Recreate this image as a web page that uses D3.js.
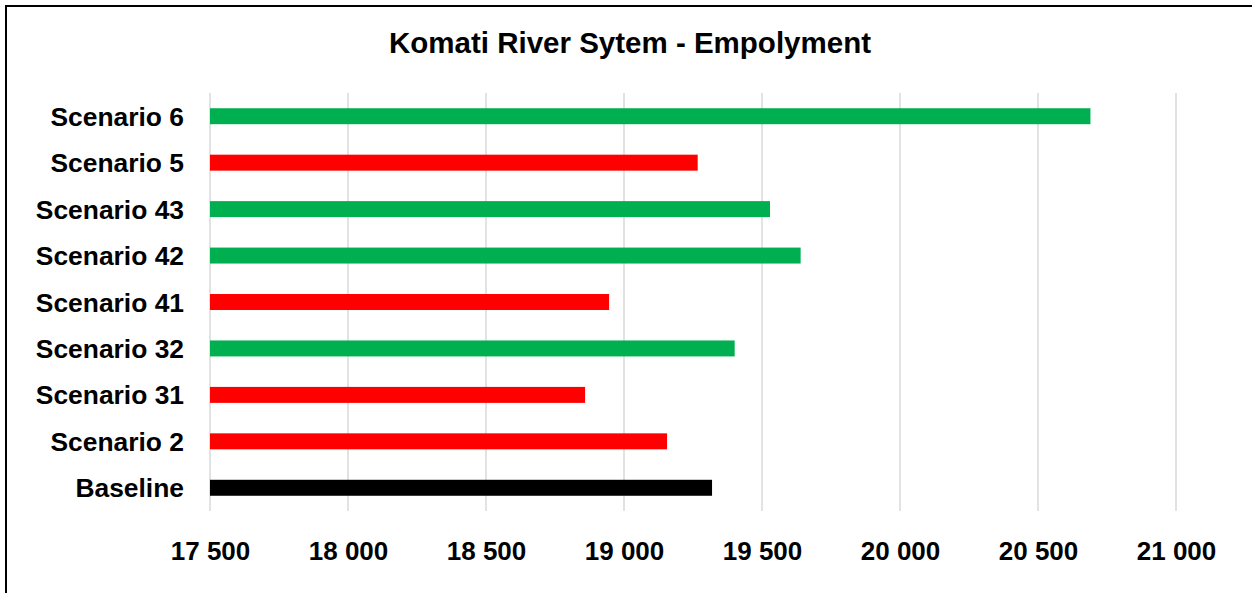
<!DOCTYPE html>
<html>
<head>
<meta charset="utf-8">
<script src="https://cdn.jsdelivr.net/npm/d3@7"></script>
<style>
  body { margin: 0; background: #fff; }
  svg { display: block; font-family: "Liberation Sans", Arial, sans-serif; }
</style>
</head>
<body>
<svg id="grafico" width="1252" height="593"></svg>
<script>
// Datos del grafico (de arriba a abajo)
var escenarios = ['Scenario 6', 'Scenario 5', 'Scenario 43', 'Scenario 42', 'Scenario 41',
                  'Scenario 32', 'Scenario 31', 'Scenario 2', 'Baseline'];
var empleo = [20690, 19267, 19529, 19640, 18946, 19401, 18859, 19156, 19319];
var colores = ['#00b050', '#ff0000', '#00b050', '#00b050', '#ff0000',
               '#00b050', '#ff0000', '#ff0000', '#000000'];
var ticks = [17500, 18000, 18500, 19000, 19500, 20000, 20500, 21000];
var titulo = 'Komati River Sytem - Empolyment';

var svg = d3.select('#grafico');

// Marco exterior
svg.append('rect')
  .attr('x', 6).attr('y', 6)
  .attr('width', 1300).attr('height', 650)
  .attr('fill', 'none').attr('stroke', '#000').attr('stroke-width', 2);

var x = d3.scaleLinear().domain([17500, 21000]).range([210, 1176]);
var y = d3.scaleBand().domain(escenarios).range([93, 511]).paddingInner(0.656).paddingOuter(0.328);

// Titulo
svg.append('text')
  .attr('x', 630).attr('y', 53)
  .attr('text-anchor', 'middle')
  .style('font-size', '29.5px').style('font-weight', 'bold')
  .text(titulo);

// Lineas de la cuadricula
svg.append('g').selectAll('line')
  .data(ticks)
  .join('line')
  .attr('x1', function(d) { return x(d); })
  .attr('x2', function(d) { return x(d); })
  .attr('y1', 93).attr('y2', 511)
  .attr('stroke', '#d9d9d9').attr('stroke-width', 1.5);

// Barras
svg.append('g').selectAll('rect')
  .data(escenarios)
  .join('rect')
  .attr('x', x(17500))
  .attr('y', function(d) { return y(d); })
  .attr('height', y.bandwidth())
  .attr('width', function(d, i) { return x(empleo[i]) - x(17500); })
  .attr('fill', function(d, i) { return colores[i]; });

// Etiquetas de categoria
svg.append('g').selectAll('text')
  .data(escenarios)
  .join('text')
  .attr('x', 184)
  .attr('y', function(d) { return y(d) + y.bandwidth() / 2; })
  .attr('dy', '0.36em')
  .attr('text-anchor', 'end')
  .style('font-size', '26.4px').style('font-weight', 'bold')
  .text(function(d) { return d; });

// Eje X
var fmt = function(d) { return d3.format(',')(d).replace(',', ' '); };
var eje = svg.append('g')
  .attr('transform', 'translate(0,' + 560 + ')')
  .call(d3.axisBottom(x).tickValues(ticks).tickFormat(fmt).tickSize(0).tickPadding(0));
eje.select('.domain').remove();
eje.selectAll('text')
  .attr('dy', 0).attr('y', 0)
  .attr('fill', '#000')
  .style('font-family', '"Liberation Sans", Arial, sans-serif')
  .style('font-size', '26px').style('font-weight', 'bold');
</script>
</body>
</html>
